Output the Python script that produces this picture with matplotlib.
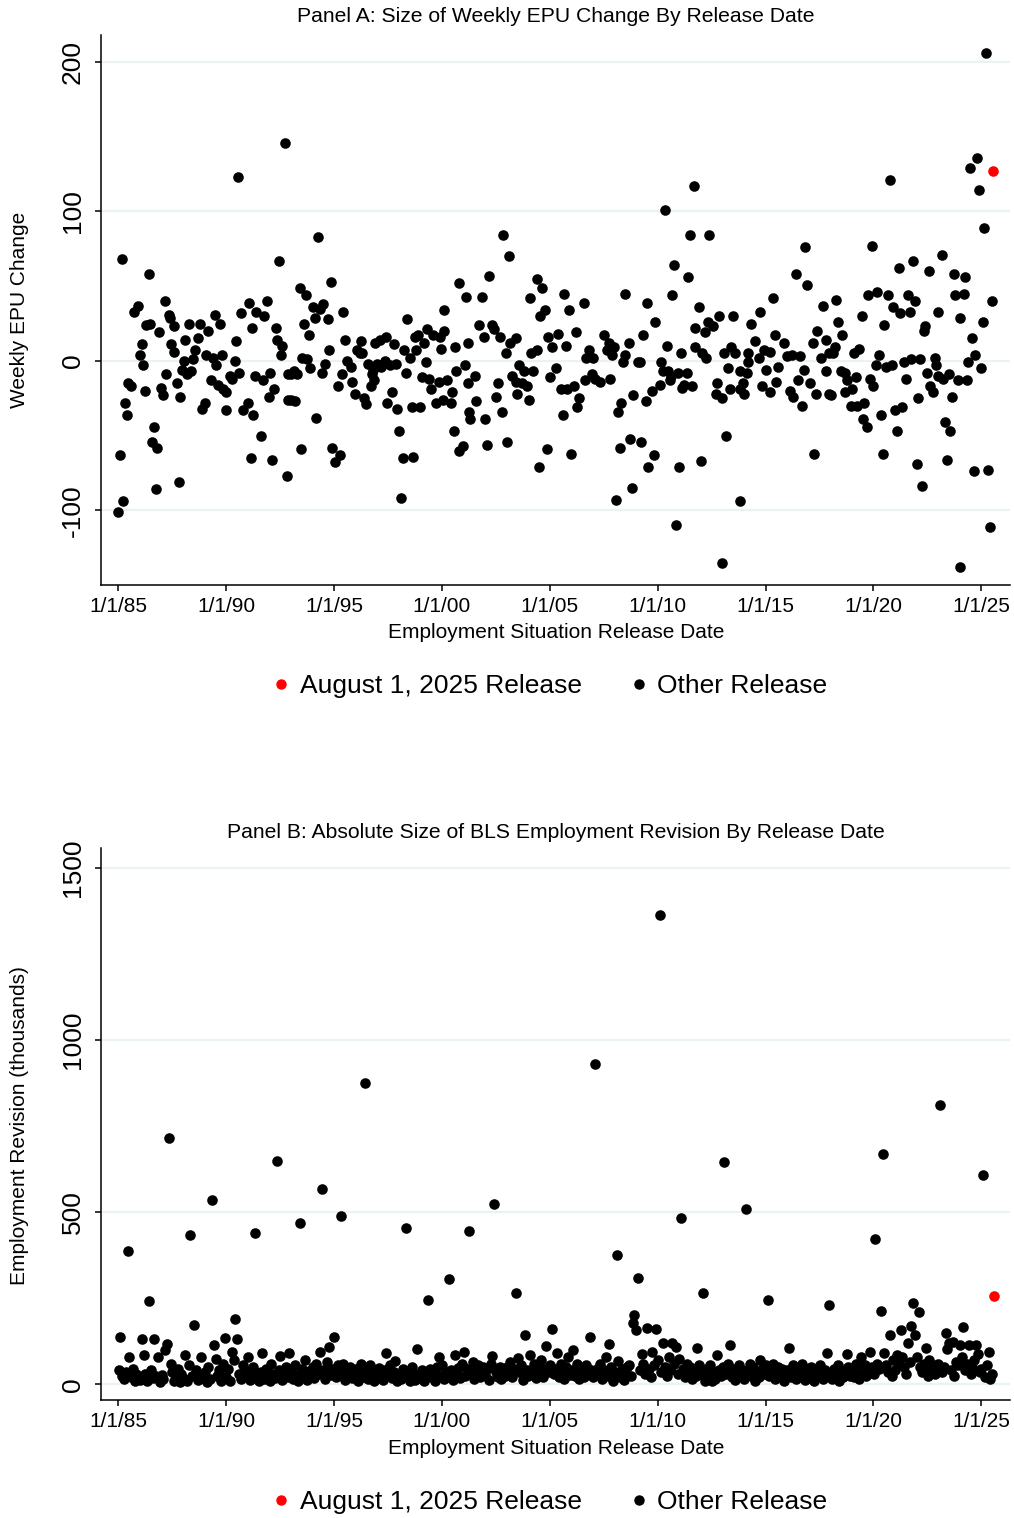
import numpy as np
import pandas as pd
import matplotlib
matplotlib.use("Agg")
import matplotlib.pyplot as plt
from matplotlib.lines import Line2D

# ── Panel A: weekly EPU change at each release (decimal year, change) ──
epu_dates = [
    1985.0, 1985.08, 1985.15, 1985.23, 1985.3, 1985.42, 1985.46, 1985.57, 1985.75, 1985.9,
    1986.0, 1986.08, 1986.15, 1986.23, 1986.3, 1986.4, 1986.46, 1986.54, 1986.65, 1986.74,
    1986.8, 1986.9, 1987.0, 1987.07, 1987.15, 1987.23, 1987.35, 1987.4, 1987.43, 1987.57,
    1987.6, 1987.7, 1987.8, 1987.88, 1987.97, 1988.05, 1988.1, 1988.2, 1988.3, 1988.35,
    1988.46, 1988.54, 1988.7, 1988.8, 1988.9, 1989.0, 1989.05, 1989.15, 1989.3, 1989.4,
    1989.46, 1989.55, 1989.6, 1989.7, 1989.8, 1989.85, 1989.97, 1990.0, 1990.2, 1990.26,
    1990.4, 1990.46, 1990.54, 1990.6, 1990.7, 1990.8, 1991.0, 1991.05, 1991.14, 1991.2,
    1991.26, 1991.35, 1991.4, 1991.63, 1991.7, 1991.77, 1991.88, 1992.0, 1992.03, 1992.12,
    1992.2, 1992.3, 1992.35, 1992.43, 1992.54, 1992.6, 1992.72, 1992.8, 1992.85, 1992.85,
    # 1993-2001
    1993.0, 1993.0, 1993.15, 1993.2, 1993.28, 1993.4, 1993.46, 1993.5, 1993.6, 1993.7,
    1993.77, 1993.86, 1993.9, 1994.03, 1994.1, 1994.18, 1994.26, 1994.35, 1994.43, 1994.5,
    1994.6, 1994.7, 1994.77, 1994.85, 1994.92, 1995.03, 1995.2, 1995.28, 1995.35, 1995.4,
    1995.5, 1995.6, 1995.8, 1995.85, 1995.95, 1996.05, 1996.2, 1996.25, 1996.3, 1996.4,
    1996.5, 1996.57, 1996.7, 1996.75, 1996.8, 1996.85, 1996.9, 1997.0, 1997.15, 1997.2,
    1997.34, 1997.43, 1997.45, 1997.58, 1997.7, 1997.77, 1997.86, 1997.9, 1998.0, 1998.1,
    1998.2, 1998.23, 1998.35, 1998.4, 1998.5, 1998.6, 1998.66, 1998.77, 1998.8, 1998.9,
    1999.0, 1999.08, 1999.15, 1999.25, 1999.3, 1999.38, 1999.5, 1999.6, 1999.74, 1999.85,
    1999.9, 1999.95, 2000.05, 2000.08, 2000.1, 2000.23, 2000.4, 2000.45, 2000.57, 2000.6,
    2000.65, 2000.77, 2000.8, 2001.0, 2001.08, 2001.1, 2001.2, 2001.2, 2001.25, 2001.3,
    # 2001-2009
    2001.52, 2001.57, 2001.7, 2001.85, 2001.95, 2002.0, 2002.1, 2002.2, 2002.34, 2002.4,
    2002.5, 2002.6, 2002.7, 2002.77, 2002.83, 2002.95, 2003.03, 2003.1, 2003.15, 2003.26,
    2003.45, 2003.45, 2003.5, 2003.57, 2003.72, 2003.8, 2003.95, 2004.03, 2004.1, 2004.15,
    2004.23, 2004.4, 2004.4, 2004.52, 2004.57, 2004.66, 2004.77, 2004.85, 2004.9, 2005.0,
    2005.1, 2005.3, 2005.4, 2005.5, 2005.6, 2005.66, 2005.77, 2005.8, 2005.9, 2006.0,
    2006.1, 2006.2, 2006.26, 2006.34, 2006.57, 2006.65, 2006.7, 2006.8, 2006.95, 2007.0,
    2007.1, 2007.34, 2007.5, 2007.65, 2007.73, 2007.8, 2007.87, 2008.0, 2008.06, 2008.15,
    2008.26, 2008.3, 2008.4, 2008.48, 2008.5, 2008.66, 2008.72, 2008.83, 2008.88, 2009.1,
    2009.2, 2009.23, 2009.32, 2009.45, 2009.5, 2009.54,
    # 2009-2017
    2009.74, 2009.85, 2009.9, 2010.12, 2010.17, 2010.25, 2010.33, 2010.42, 2010.5, 2010.59,
    2010.6, 2010.67, 2010.74, 2010.84, 2010.93, 2011.0, 2011.08, 2011.13, 2011.2, 2011.36,
    2011.4, 2011.5, 2011.6, 2011.67, 2011.72, 2011.75, 2011.9, 2012.0, 2012.06, 2012.2,
    2012.26, 2012.34, 2012.4, 2012.57, 2012.72, 2012.75, 2012.83, 2012.96, 2013.0, 2013.07,
    2013.17, 2013.25, 2013.34, 2013.4, 2013.5, 2013.6, 2013.8, 2013.84, 2013.84, 2013.95,
    2014.0, 2014.12, 2014.18, 2014.2, 2014.33, 2014.5, 2014.7, 2014.74, 2014.85, 2014.95,
    2015.0, 2015.2, 2015.23, 2015.34, 2015.42, 2015.5, 2015.57, 2015.85, 2016.0, 2016.13,
    2016.24, 2016.27, 2016.4, 2016.5, 2016.6, 2016.67, 2016.78, 2016.83, 2016.9, 2017.06,
    2017.2, 2017.26, 2017.35, 2017.4, 2017.55, 2017.66, 2017.8, 2017.8, 2017.94, 2017.94,
    # 2018-2025
    2018.04, 2018.13, 2018.2, 2018.28, 2018.35, 2018.5, 2018.53, 2018.68, 2018.68, 2018.77,
    2018.96, 2019.03, 2019.1, 2019.2, 2019.26, 2019.34, 2019.45, 2019.54, 2019.57, 2019.7,
    2019.77, 2019.85, 2019.92, 2020.0, 2020.1, 2020.18, 2020.26, 2020.37, 2020.43, 2020.5,
    2020.6, 2020.67, 2020.75, 2020.84, 2020.9, 2021.0, 2021.09, 2021.17, 2021.24, 2021.33,
    2021.4, 2021.5, 2021.6, 2021.68, 2021.75, 2021.84, 2021.92, 2022.0, 2022.08, 2022.18,
    2022.24, 2022.33, 2022.4, 2022.5, 2022.58, 2022.64, 2022.77, 2022.84, 2022.9, 2023.0,
    2023.0, 2023.17, 2023.25, 2023.3, 2023.4, 2023.5, 2023.57, 2023.65, 2023.73, 2023.8,
    2023.9, 2024.0, 2024.0, 2024.2, 2024.23, 2024.33, 2024.4, 2024.48, 2024.55, 2024.65,
    2024.72, 2024.8, 2024.9, 2024.98, 2025.06, 2025.14, 2025.2, 2025.3, 2025.4, 2025.48,
]
epu_change = [
    -101, -63, 68, -94, -28, -36, -15, -17, 33, 37,
    4, 11, -3, -20, 24, 58, 25, -54, -44, -86,
    -58, 19, -18, -23, 40, -9, 31, 29, 11, 23,
    6, -15, -81, -24, -6, 0, 14, -9, 25, -7,
    1, 7, 15, 25, -32, -28, 4, 20, -13, 2,
    31, -3, -16, 25, 4, -19, -33, -21, -10, -12,
    0, 13, 123, -8, 32, -33, -28, 39, -65, 22,
    -36, -10, 33, -50, -13, 30, 40, -24, -8, -66,
    -19, 22, 14, 67, 4, 10, 146, -77, -9, -26,
    -9, -26, -7, -27, -9, 49, -59, 2, 25, 44,
    1, 17, -5, 36, 29, -38, 83, 35, -8, 38,
    -2, 28, 7, 53, -58, -68, -17, -63, -9, 33,
    14, 0, -4, -14, -22, 7, 5, 13, 5, -25,
    -29, -2, -17, -9, -6, -13, 12, -2, 14, -4,
    0, 16, -28, -3, -21, 11, -2, -32, -47, -92,
    -65, 7, -8, 28, 2, -31, -64, 16, 7, 17,
    -31, -11, 12, -1, 21, -12, -19, 17, -28, -14,
    16, 8, -26, 20, 34, -13, -28, -21, -47, 9,
    -7, -60, 52, -57, -3, 43, 12, -15, -34, -39,
    -10, -27, 24, 43, 16, -39, -56, 57, 24, 21,
    -24, -15, 16, -34, 84, 5, -54, 70, 12, -10,
    15, -14, -22, -3, -15, -7, -17, -26, 42, 5,
    -7, 7, 55, -71, 30, 49, 34, -59, 16, -11,
    9, -5, 18, -19, -36, 45, 10, -19, 34, -62,
    -17, 19, -31, -25, 39, -13, 2, 7, -9, 2,
    -12, -14, 17, 7, 12, -12, 4, 9, -93, -34,
    -58, -28, -1, 45, 4, 12, -52, -85, -23, -1,
    -1, -54, 17, -27, 39, -71,
    -20, -63, 26, -16, -1, -7, 101, 10, -7, -13,
    -10, 44, 64, -110, -8, -71, 5, -18, -16, -8,
    56, 84, -17, 117, 9, 22, 36, -67, 5, 19,
    2, 26, 84, 23, -22, -15, 30, -25, -135, 5,
    -50, -5, -19, 9, 30, 5, -94, -7, -19, -15,
    -22, -8, -1, 5, 25, 13, 2, 33, -17, 7,
    -6, -21, 6, 42, 17, -14, -4, 12, 3, -20,
    4, -24, 58, -13, 3, -30, -6, 76, 51, -15,
    12, -62, -22, 20, 2, 37, -7, 14, 5, -22,
    -23, 5, 9, 41, 26, -7, 17, -8, -21, -13,
    -30, -19, 5, -11, -30, 8, 30, -39, -28, -44,
    44, -12, 77, -17, -3, 46, 4, -36, -62, 24,
    -4, 44, 121, -3, 36, -33, -47, 62, 32, -31,
    -1, -12, 44, 33, 1, 67, 40, -69, -25, 1,
    -84, 20, 23, -8, 60, -17, -21, 2, -3, 33,
    -10, 71, -12, -41, -66, -9, -47, -24, 58, 44,
    -13, 29, -138, 45, 56, -13, -1, 129, 15, -74,
    4, 136, 114, -5, 26, 89, 206, -73, -111, 40,
]

# ── Panel B: absolute BLS employment revision (thousands), one per monthly release ──
revision_1985_1994 = [
    40, 138, 25, 15, 35, 387, 78, 20, 45, 10, 30, 22,
    12, 130, 85, 30, 8, 242, 40, 18, 132, 25, 78, 5,
    28, 15, 98, 116, 715, 60, 35, 10, 22, 45, 5, 30,
    18, 85, 8, 57, 433, 25, 173, 40, 12, 30, 78, 20,
    35, 5, 50, 15, 534, 114, 73, 25, 42, 10, 60, 133,
    20, 45, 8, 93, 70, 189, 130, 30, 15, 55, 25, 38,
    80, 12, 30, 50, 440, 20, 8, 35, 90, 15, 45, 25,
    10, 60, 30, 18, 648, 40, 83, 12, 28, 50, 22, 90,
    35, 15, 55, 28, 8, 468, 45, 20, 70, 12, 38, 25,
    50, 18, 60, 30, 93, 568, 40, 15, 65, 109, 28, 45,
]
revision_1995_2004 = [
    136, 22, 55, 35, 489, 60, 12, 40, 25, 50, 18, 30,
    45, 8, 35, 60, 20, 876, 42, 15, 55, 28, 10, 38,
    22, 48, 30, 12, 40, 90, 25, 55, 18, 35, 67, 10,
    28, 15, 45, 20, 454, 35, 8, 50, 25, 12, 102, 30,
    18, 40, 10, 28, 246, 45, 20, 35, 8, 50, 78, 25,
    55, 15, 35, 22, 306, 40, 12, 86, 30, 48, 18, 60,
    93, 25, 45, 445, 30, 65, 15, 40, 55, 20, 35, 50,
    28, 45, 12, 60, 81, 523, 35, 20, 50, 15, 40, 25,
    50, 30, 65, 20, 45, 264, 76, 35, 55, 12, 143, 40,
    25, 85, 40, 60, 18, 50, 30, 70, 22, 45, 112, 35,
]
revision_2005_2014 = [
    55, 161, 30, 45, 91, 20, 60, 38, 15, 50, 80, 28,
    42, 98, 25, 60, 15, 45, 35, 20, 55, 30, 138, 40,
    20, 931, 45, 30, 60, 15, 40, 78, 25, 117, 50, 10,
    35, 375, 67, 20, 45, 12, 30, 50, 57, 25, 179, 200,
    158, 310, 40, 88, 60, 30, 164, 45, 20, 93, 55, 161,
    70, 1362, 35, 119, 50, 25, 80, 40, 121, 60, 109, 30,
    73, 482, 45, 20, 60, 35, 50, 15, 40, 25, 104, 55,
    30, 266, 10, 45, 20, 55, 8, 35, 15, 86, 40, 25,
    50, 646, 30, 60, 114, 20, 45, 12, 35, 55, 25, 40,
    15, 508, 40, 60, 25, 50, 10, 35, 20, 70, 45, 30,
]
revision_2015_2025 = [
    55, 246, 25, 40, 60, 15, 35, 50, 20, 45, 10, 30,
    40, 106, 20, 55, 35, 15, 45, 25, 60, 30, 12, 40,
    20, 50, 30, 10, 45, 25, 55, 35, 15, 40, 91, 231,
    30, 15, 45, 25, 55, 10, 40, 20, 35, 88, 50, 25,
    45, 20, 60, 30, 15, 78, 40, 55, 25, 35, 95, 50,
    30, 422, 60, 45, 214, 668, 90, 55, 35, 143, 25, 70,
    40, 85, 60, 158, 78, 50, 30, 119, 65, 169, 236, 142,
    80, 210, 50, 35, 60, 104, 25, 70, 40, 55, 30, 45,
    60, 812, 35, 50, 148, 101, 119, 40, 122, 25, 65, 55,
    114, 78, 167, 40, 60, 114, 30, 50, 70, 114, 88, 35,
    45, 609, 20, 57, 95, 15, 30, 257,
]
revision = revision_1985_1994 + revision_1995_2004 + revision_2005_2014 + revision_2015_2025

# the highlighted release (last one)
aug25_date = 2025.55
aug25_epu = 127

year_ticks = [1985, 1990, 1995, 2000, 2005, 2010, 2015, 2020, 2025]
year_labels = ["1/1/85", "1/1/90", "1/1/95", "1/1/00", "1/1/05",
               "1/1/10", "1/1/15", "1/1/20", "1/1/25"]

release_months = pd.date_range("1985-01-01", "2025-08-01", freq="MS")
rev_dates = release_months.year + (release_months.month - 1) / 12 + 0.01

plt.rcParams.update({
    "font.family": ["Liberation Sans", "DejaVu Sans"],
    "axes.edgecolor": "black",
    "axes.linewidth": 1.1,
    "xtick.major.size": 4.5,
    "ytick.major.size": 4.5,
    "xtick.major.width": 1.1,
    "ytick.major.width": 1.1,
})

GRID = "#EAF2F3"
DOT = 58

fig = plt.figure(figsize=(10.14, 15.18), dpi=100)
axA = fig.add_axes([0.0996, 0.6146, 0.8964, 0.3623])
axB = fig.add_axes([0.0996, 0.0777, 0.8964, 0.3637])


def style(ax, yticks):
    for s in ["top", "right"]:
        ax.spines[s].set_visible(False)
    ax.set_xlim(1984.198, 2026.33)
    ax.set_xticks(year_ticks)
    ax.set_xticklabels(year_labels, fontsize=15)
    ax.set_yticks(yticks)
    ax.set_yticklabels([str(v) for v in yticks], fontsize=19, rotation=90, va="center")
    ax.tick_params(axis="y", pad=7)
    ax.tick_params(axis="x", pad=4)
    ax.grid(axis="y", color=GRID, linewidth=1.6)
    ax.set_axisbelow(True)


# Panel A
axA.scatter(epu_dates, epu_change, s=DOT, color="black", linewidths=0, zorder=3)
axA.scatter([aug25_date], [aug25_epu], s=DOT, color="red", linewidths=0, zorder=4)
style(axA, [-100, 0, 100, 200])
axA.set_ylim(-150, 218)

# Panel B
axB.scatter(rev_dates[:-1], revision[:-1], s=DOT, color="black", linewidths=0, zorder=3)
axB.scatter(rev_dates[-1:], revision[-1:], s=DOT, color="red", linewidths=0, zorder=4)
style(axB, [0, 500, 1000, 1500])
axB.set_ylim(-46, 1558)

H = 1518.0
fig.text(556 / 1014, 1 - 17 / H, "Panel A: Size of Weekly EPU Change By Release Date",
         ha="center", va="center", fontsize=15.2)
fig.text(556 / 1014, 1 - 633 / H, "Employment Situation Release Date",
         ha="center", va="center", fontsize=15)
fig.text(20 / 1014, 1 - 310 / H, "Weekly EPU Change", rotation=90,
         ha="center", va="center", fontsize=15)

fig.text(556 / 1014, 1 - 832 / H, "Panel B: Absolute Size of BLS Employment Revision By Release Date",
         ha="center", va="center", fontsize=15.2)
fig.text(556 / 1014, 1 - 1449 / H, "Employment Situation Release Date",
         ha="center", va="center", fontsize=15)
fig.text(20 / 1014, 1 - 1126 / H, "Employment Revision (thousands)", rotation=90,
         ha="center", va="center", fontsize=15)

handles = [
    Line2D([], [], marker="o", linestyle="none", color="red", markersize=6.5),
    Line2D([], [], marker="o", linestyle="none", color="black", markersize=6.5),
]
labels = ["August 1, 2025 Release", "Other Release"]
for ypix in (686, 1502):
    fig.legend(handles, labels, loc="center", bbox_to_anchor=(549 / 1014, 1 - ypix / H),
               ncol=2, frameon=False, fontsize=19, handletextpad=0.3,
               columnspacing=1.75, handlelength=0.8)

fig.savefig("out.png", dpi=100, facecolor="white")
